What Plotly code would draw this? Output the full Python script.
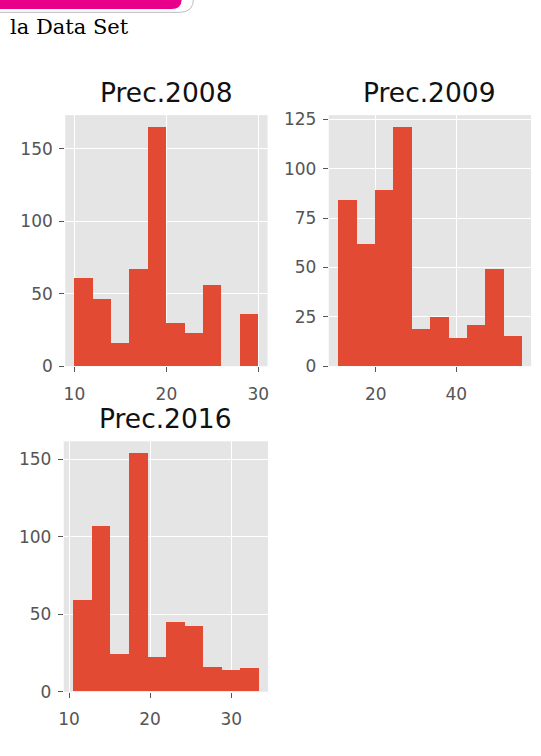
import plotly.graph_objects as go

W, H = 541, 756

# ---- data ----
titles = ["Prec.2008", "Prec.2009", "Prec.2016"]
counts_2008 = [61, 46, 16, 67, 165, 30, 23, 56, 0, 36]
counts_2009 = [84, 62, 89, 121, 19, 25, 14, 21, 49, 15]
counts_2016 = [59, 107, 24, 154, 22, 45, 42, 16, 14, 15]
range_2008 = [10.0, 30.0]
range_2009 = [10.6, 56.3]
range_2016 = [10.49, 33.4]
xticks_2008 = [10, 20, 30]
xticks_2009 = [20, 40]
xticks_2016 = [10, 20, 30]
yticks_2008 = [0, 50, 100, 150]
yticks_2009 = [0, 25, 50, 75, 100, 125]
yticks_2016 = [0, 50, 100, 150]

BAR = "#E24A33"
BG = "#E5E5E5"
TICK = "#555555"


def X(px):
    return px / W


def Y(py):
    return 1 - py / H


panels = [
    dict(counts=counts_2008, rng=range_2008, xt=xticks_2008, yt=yticks_2008,
         dom=(61, 266, 111.5, 368)),
    dict(counts=counts_2009, rng=range_2009, xt=xticks_2009, yt=yticks_2009,
         dom=(328, 533, 111.5, 368)),
    dict(counts=counts_2016, rng=range_2016, xt=xticks_2016, yt=yticks_2016,
         dom=(59.5, 266.5, 444.7, 700.5)),
]

fig = go.Figure()
annotations = []
for i, p in enumerate(panels):
    n = len(p["counts"])
    lo, hi = p["rng"]
    w = (hi - lo) / n
    centers = [lo + w * (k + 0.5) for k in range(n)]
    sfx = "" if i == 0 else str(i + 1)
    fig.add_trace(go.Bar(x=centers, y=p["counts"], width=[w] * n,
                         marker=dict(color=BAR, line=dict(width=0)),
                         xaxis="x" + sfx, yaxis="y" + sfx, showlegend=False,
                         hoverinfo="x+y"))
    x0, x1, yt, yb = p["dom"]
    span = hi - lo
    common = dict(showline=False, zeroline=False, showgrid=True, gridcolor="white",
                  gridwidth=1.3, ticks="outside", ticklen=5, tickwidth=1,
                  tickcolor=TICK, tickfont=dict(family="DejaVu Sans", size=17, color=TICK))
    fig.update_layout(**{
        "xaxis" + sfx: dict(domain=[X(x0), X(x1)], range=[lo - 0.05 * span, hi + 0.05 * span],
                           tickvals=p["xt"], anchor="y" + sfx, ticklabelstandoff=7, **common),
        "yaxis" + sfx: dict(domain=[Y(yb), Y(yt)], range=[0, 1.05 * max(p["counts"])],
                           tickvals=p["yt"], anchor="x" + sfx, ticklabelstandoff=3, **common),
    })
    annotations.append(dict(text=titles[i], x=X((x0 + x1) / 2), y=Y(yt - 5),
                            xref="paper", yref="paper", xanchor="center", yanchor="bottom",
                            showarrow=False,
                            font=dict(family="DejaVu Sans", size=26.5, color="#111111")))

annotations.append(dict(text="la Data Set", x=X(3), y=Y(36), xref="paper", yref="paper",
                        xanchor="left", yanchor="bottom", showarrow=False,
                        font=dict(family="DejaVu Serif", size=21, color="#000000")))

# rounded pink header bottom (cut off at top of the page)
def rrect(x0, y0, x1, y1, r):
    rx, ry = r / W, r / H
    ax0, ax1 = X(x0), X(x1)
    ay0, ay1 = Y(y0), Y(y1)
    return (f"M {ax0},{ay0} L {ax1},{ay0} L {ax1},{ay1 + ry} "
            f"Q {ax1},{ay1} {ax1 - rx},{ay1} L {ax0},{ay1} Z")

shapes = [
    dict(type="path", xref="paper", yref="paper", path=rrect(-20, -40, 191, 6.5, 14),
         fillcolor="white", line=dict(color="#BDBDBD", width=1)),
    dict(type="path", xref="paper", yref="paper", path=rrect(-20, -40, 179, 3, 10),
         fillcolor="#E8008A", line=dict(width=0)),
]

fig.update_layout(width=W, height=H, margin=dict(l=0, r=0, t=0, b=0),
                  paper_bgcolor="white", plot_bgcolor=BG, bargap=0,
                  annotations=annotations, shapes=shapes)

fig.write_html("out.html", config={"displayModeBar": False},
               post_script="document.body.style.margin='0';document.body.style.overflow='hidden';")
